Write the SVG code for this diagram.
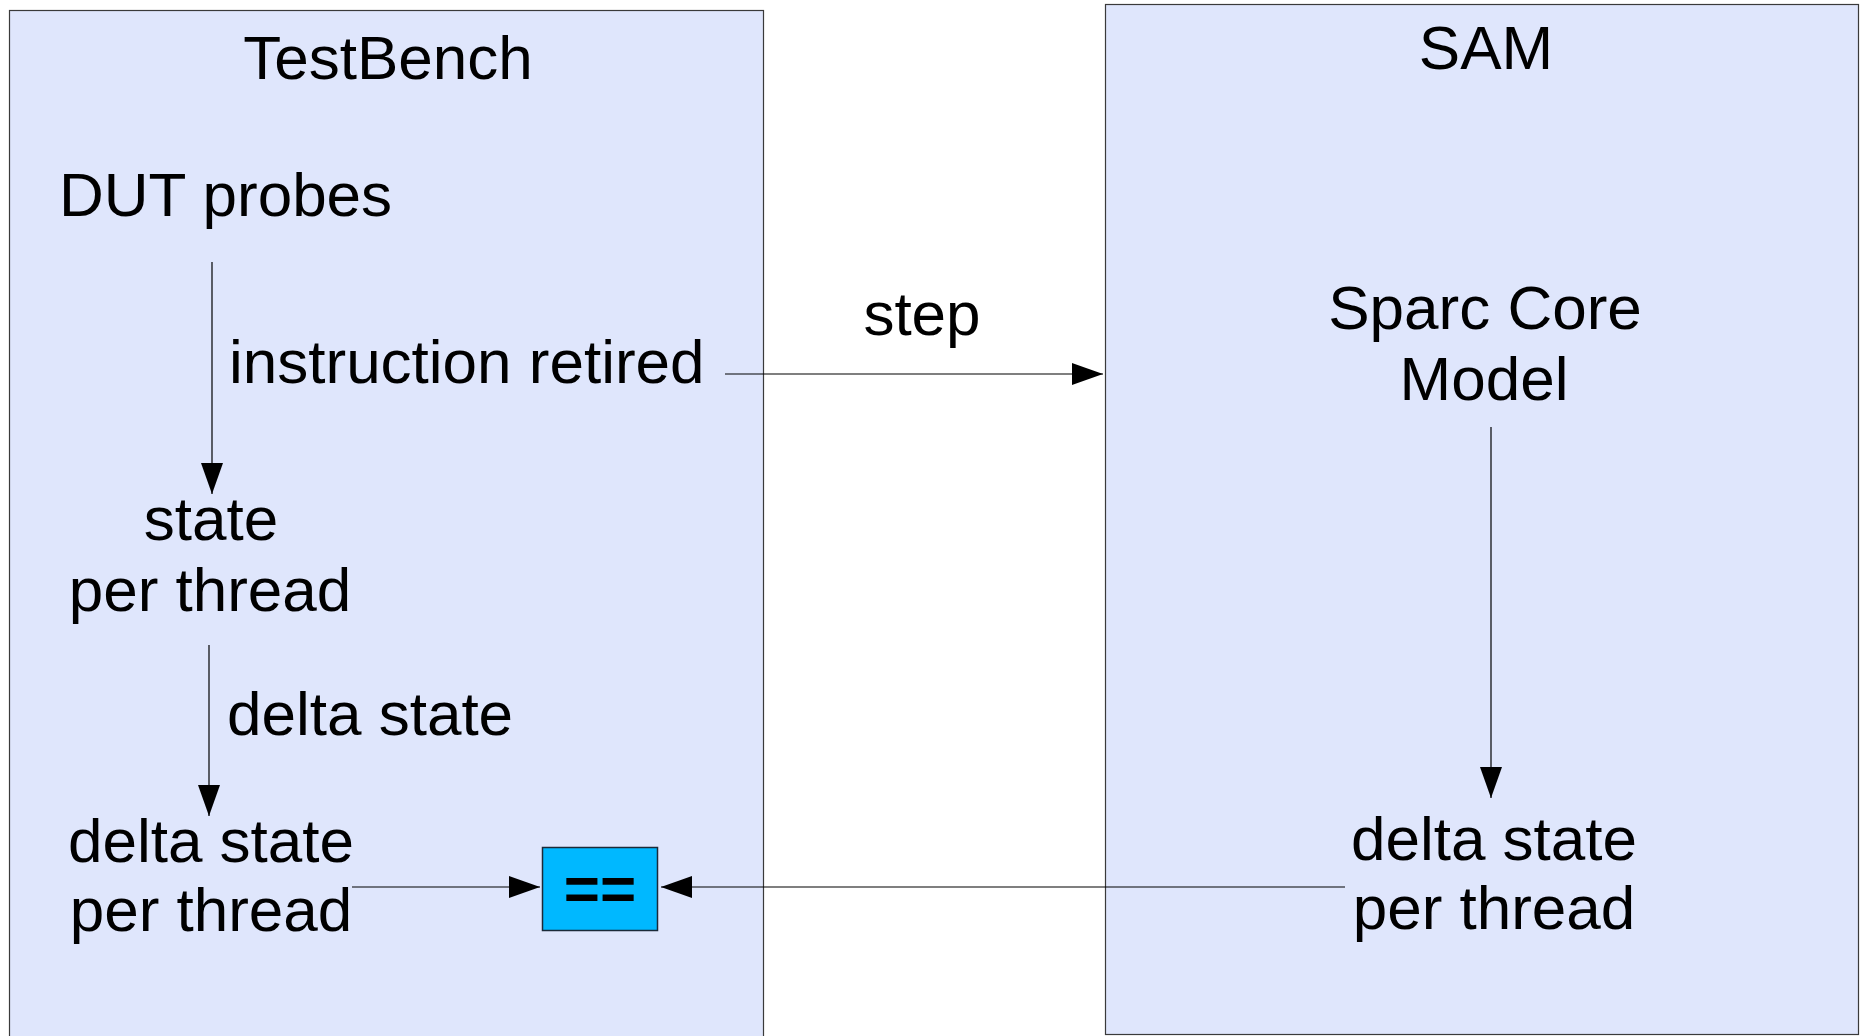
<svg xmlns="http://www.w3.org/2000/svg" width="1860" height="1036" viewBox="0 0 1860 1036">
  <style>
    .frame { fill: #dfe6fc; stroke: #3a3a3a; stroke-width: 1.2; }
    .label { font-family: "Liberation Sans", Arial, sans-serif; font-size: 62px; fill: #000; }
    .mid { text-anchor: middle; }
    .wire { stroke: #000; stroke-width: 1.2; fill: none; marker-end: url(#arrow); }
    .cmp { fill: #00b8ff; stroke: #1b2a38; stroke-width: 1.5; }
    .cmp-text { font-family: "Liberation Sans", Arial, sans-serif; font-size: 62px; font-weight: bold; text-anchor: middle; fill: #000; }
  </style>
  <defs>
    <marker id="arrow" viewBox="0 0 31 22" refX="31" refY="11" markerWidth="31" markerHeight="22" orient="auto" markerUnits="userSpaceOnUse">
      <path d="M0,0 L31,11 L0,22 z" fill="#000"/>
    </marker>
  </defs>

  <rect width="1860" height="1036" fill="#ffffff"/>

  <!-- TestBench container -->
  <g id="testbench">
    <rect class="frame" x="9.5" y="10.5" width="754" height="1040"/>
    <text class="label mid" x="388" y="79">TestBench</text>
  </g>

  <!-- SAM container -->
  <g id="sam">
    <rect class="frame" x="1105.5" y="4.5" width="753" height="1030"/>
    <text class="label mid" x="1486" y="69">SAM</text>
  </g>

  <g id="dut-probes">
    <text class="label" x="59" y="216">DUT probes</text>
  </g>

  <g id="state-per-thread">
    <text class="label mid" x="211" y="540">state</text>
    <text class="label mid" x="210" y="611">per thread</text>
  </g>

  <g id="tb-delta-state">
    <text class="label mid" x="211" y="862">delta state</text>
    <text class="label mid" x="211" y="931">per thread</text>
  </g>

  <g id="sparc-core-model">
    <text class="label mid" x="1485" y="329">Sparc Core</text>
    <text class="label mid" x="1484" y="400">Model</text>
  </g>

  <g id="sam-delta-state">
    <text class="label mid" x="1494" y="860">delta state</text>
    <text class="label mid" x="1494" y="929">per thread</text>
  </g>

  <g id="compare">
    <rect class="cmp" x="542.5" y="847.5" width="115" height="83"/>
    <text class="cmp-text" x="600" y="910">==</text>
  </g>

  <!-- Connectors and their labels -->
  <g id="connectors">
    <line class="wire" x1="212" y1="262" x2="212" y2="494"/>
    <text class="label" x="229" y="383">instruction retired</text>

    <line class="wire" x1="725" y1="374" x2="1103" y2="374"/>
    <text class="label mid" x="922" y="335">step</text>

    <line class="wire" x1="209" y1="645" x2="209" y2="816"/>
    <text class="label" x="227" y="735">delta state</text>

    <line class="wire" x1="1491" y1="427" x2="1491" y2="798"/>

    <line class="wire" x1="352" y1="887" x2="540" y2="887"/>
    <line class="wire" x1="1345" y1="887" x2="661" y2="887"/>
  </g>
</svg>
